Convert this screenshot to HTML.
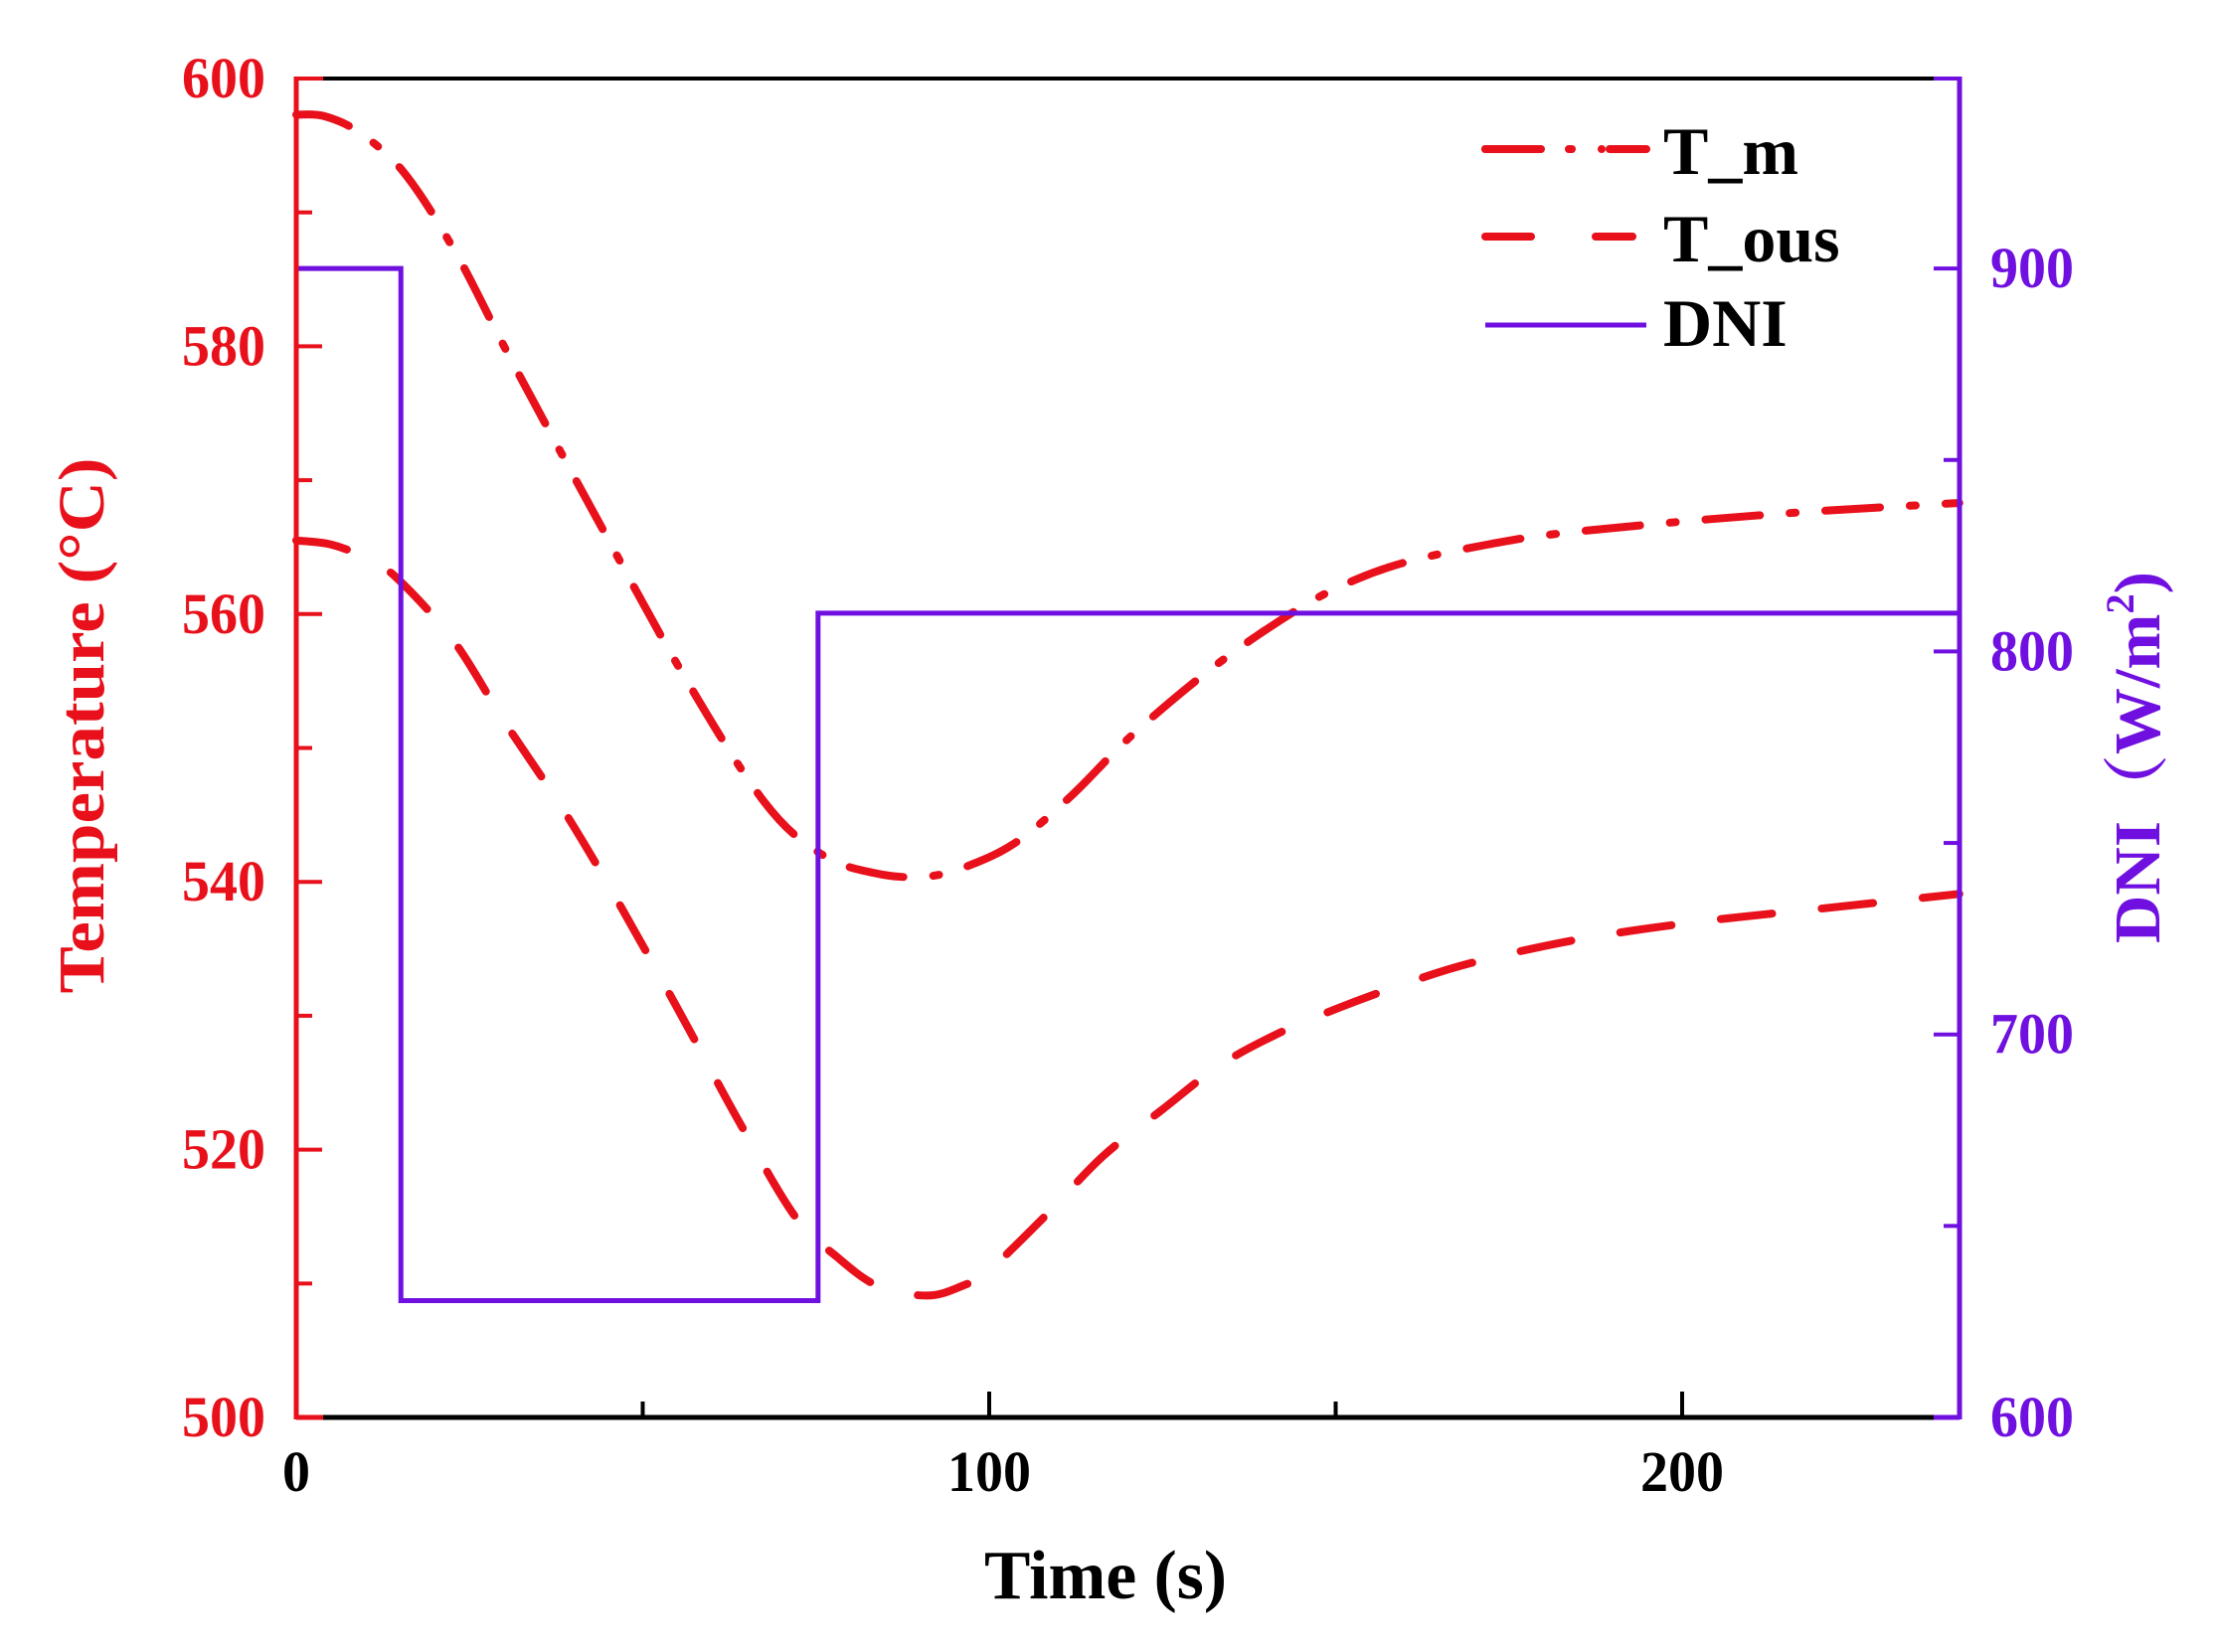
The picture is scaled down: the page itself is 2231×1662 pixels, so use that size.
<!DOCTYPE html>
<html><head><meta charset="utf-8"><style>
html,body{margin:0;padding:0;background:#fff;width:2231px;height:1662px;overflow:hidden}
text{font-family:"Liberation Serif",serif;font-weight:bold}
</style></head><body>
<svg id="s" width="2231" height="1662" xmlns="http://www.w3.org/2000/svg">
<rect width="2231" height="1662" fill="#fff"/>
<g id="series"></g>
<line x1="298" y1="79" x2="1971" y2="79" stroke="#000" stroke-width="4"/>
<line x1="298" y1="1426" x2="1971" y2="1426" stroke="#000" stroke-width="5"/>
<line x1="298" y1="77" x2="298" y2="1428" stroke="#e8101a" stroke-width="5"/>
<line x1="298" y1="1426" x2="325" y2="1426" stroke="#e8101a" stroke-width="5"/>
<line x1="298" y1="79" x2="325" y2="79" stroke="#e8101a" stroke-width="4"/>
<line x1="1971" y1="77" x2="1971" y2="1428" stroke="#7010e0" stroke-width="5"/>
<line x1="1945" y1="1426" x2="1971" y2="1426" stroke="#7010e0" stroke-width="5"/>
<line x1="1945" y1="79" x2="1971" y2="79" stroke="#7010e0" stroke-width="4"/>
<g id="ticks"></g>
<g id="labels" font-size="58"></g>
<line x1="1494" y1="150" x2="1656" y2="150" stroke="#e8101a" stroke-width="8" stroke-linecap="round" stroke-dasharray="56 28 3 30 0 200"/>
<line x1="1494" y1="150" x2="1656" y2="150" stroke="#e8101a" stroke-width="8" stroke-linecap="round" stroke-dasharray="0 125 50 200"/>
<line x1="1494" y1="238" x2="1540" y2="238" stroke="#e8101a" stroke-width="8" stroke-linecap="round"/>
<line x1="1605" y1="238" x2="1642" y2="238" stroke="#e8101a" stroke-width="8" stroke-linecap="round"/>
<line x1="1494" y1="327" x2="1656" y2="327" stroke="#7010e0" stroke-width="5"/>
<text x="1673" y="175" font-size="68" fill="#000">T_m</text>
<text x="1673" y="263" font-size="68" fill="#000">T_ous</text>
<text x="1673" y="348" font-size="68" fill="#000">DNI</text>
<text x="1112" y="1608" font-size="70" fill="#000" text-anchor="middle" textLength="244" lengthAdjust="spacingAndGlyphs">Time (s)</text>
<text transform="translate(104,730) rotate(-90)" font-size="66" fill="#e8101a" text-anchor="middle" textLength="539" lengthAdjust="spacingAndGlyphs">Temperature (°C)</text>
<text transform="translate(2172,762) rotate(-90)" font-size="66" fill="#7010e0" text-anchor="middle" textLength="374" lengthAdjust="spacingAndGlyphs" style='font-family:"Liberation Serif","Noto Serif CJK SC",serif'>DNI（W/m<tspan font-size="40" dy="-26">2</tspan><tspan dy="26">)</tspan></text>
</svg>
<script>
var NS="http://www.w3.org/2000/svg";
function X(t){return 298+t*6.97;}
function YT(v){return 1426-(v-500)*13.47;}
function YD(v){return 1426-(v-600)*3.853;}
function el(p,tag,a,txt){var e=document.createElementNS(NS,tag);for(var k in a)e.setAttribute(k,a[k]);if(txt!=null)e.textContent=txt;p.appendChild(e);return e;}
var ticks=document.getElementById('ticks'),labels=document.getElementById('labels'),ser=document.getElementById('series');
for(var v=510;v<600;v+=10){var y=YT(v);var L=(v%20==0)?26:16;el(ticks,'line',{x1:298,y1:y,x2:298+L,y2:y,stroke:'#e8101a','stroke-width':4});}
for(var v=500;v<=600;v+=20){el(labels,'text',{x:267,y:YT(v)+19,fill:'#e8101a','text-anchor':'end',textLength:84,lengthAdjust:'spacingAndGlyphs'},String(v));}
for(var v=650;v<950;v+=50){var y=YD(v);var L=(v%100==0)?26:16;el(ticks,'line',{x1:1971-L,y1:y,x2:1971,y2:y,stroke:'#7010e0','stroke-width':4});}
for(var v=600;v<=900;v+=100){el(labels,'text',{x:2002,y:YD(v)+19,fill:'#7010e0',textLength:84,lengthAdjust:'spacingAndGlyphs'},String(v));}
[50,100,150,200].forEach(function(t){var L=(t%100==0)?26:16;el(ticks,'line',{x1:X(t),y1:1426,x2:X(t),y2:1426-L,stroke:'#000','stroke-width':4});});
[0,100,200].forEach(function(t){var w=t==0?28:84;el(labels,'text',{x:X(t),y:1500,fill:'#000','text-anchor':'middle',textLength:w,lengthAdjust:'spacingAndGlyphs'},String(t));});
function path(pts){var p=pts.map(function(a){return [X(a[0]),YT(a[1])];});var d='M'+p[0][0]+','+p[0][1];
for(var i=0;i<p.length-1;i++){var p0=p[i-1]||p[i],p1=p[i],p2=p[i+1],p3=p[i+2]||p2;
var c1=[p1[0]+(p2[0]-p0[0])/6,p1[1]+(p2[1]-p0[1])/6],c2=[p2[0]-(p3[0]-p1[0])/6,p2[1]-(p3[1]-p1[1])/6];
d+=' C'+c1[0]+','+c1[1]+' '+c2[0]+','+c2[1]+' '+p2[0]+','+p2[1];}return d;}
var Tm=[[0,597.3],[4,597.2],[9,596],[15.5,593],[23,587],[31,579],[43,567.5],[55.6,555.7],[67.5,546],[76,542],[84,540.6],[91,540.4],[97,541.2],[104,543],[112,546.5],[120.7,551],[133,556.3],[145,560.5],[153,562.6],[161,564],[172,565.2],[182,566],[202,567],[220,567.7],[240,568.3]];
var Tous=[[0,565.5],[5,565.2],[10,564.2],[14.5,562.7],[22.7,558],[30,552],[39,545],[47,538],[55.6,530],[64,522],[72,515],[78,512],[84,509.8],[91,509.1],[96,509.8],[100,511],[108,515],[116.4,519.5],[125,523],[133,526.2],[141,528.5],[150,530.5],[160,532.4],[170,534],[185,535.7],[202,537],[220,538],[240,539.1]];
el(ser,'path',{d:path(Tm),fill:'none',stroke:'#e8101a','stroke-width':8,'stroke-dasharray':'55 30 6 30','stroke-linecap':'round'});
el(ser,'path',{d:path(Tous),fill:'none',stroke:'#e8101a','stroke-width':8,'stroke-dasharray':'52 50','stroke-linecap':'round'});
var d='M'+X(0)+','+YD(900)+' H'+X(15.1)+' V'+YD(630.5)+' H'+X(75.3)+' V'+YD(810)+' H1971';
el(ser,'path',{d:d,fill:'none',stroke:'#7010e0','stroke-width':5});
</script>
</body></html>
